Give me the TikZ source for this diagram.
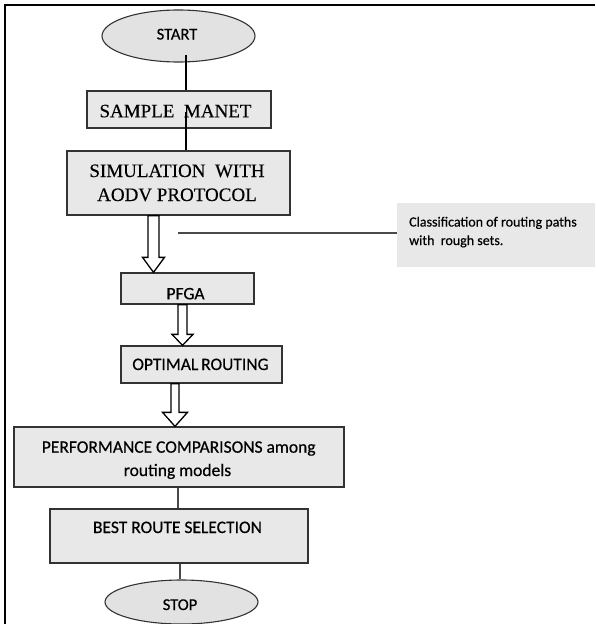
\documentclass[tikz,border=0pt]{standalone}
\usepackage{fontspec}
\setmainfont{Liberation Serif}
\newfontfamily\calfont[FakeBold=0.5]{Carlito}
\newfontfamily\notefont[FakeBold=0.4]{Carlito}
\newfontfamily\serfont[FakeBold=0.3]{Liberation Serif}
\usetikzlibrary{shapes.geometric,calc}
\definecolor{boxborder}{HTML}{333333}
\definecolor{boxfill}{HTML}{E8E8E8}
\definecolor{ovalfill}{HTML}{E2E2E2}
\definecolor{notefill}{HTML}{E8E8E8}
\definecolor{linegray}{HTML}{4A4A4A}
\newcommand{\blockarr}[6]{%
  \draw[blockarrow] let \p1=(#1.south), \p2=(#2.north) in
    (#3pt-#4pt,\y1) -- (#3pt+#4pt,\y1) -- (#3pt+#4pt,\y2+#6pt) -- (#3pt+#5pt,\y2+#6pt)
    -- (#3pt,\y2) -- (#3pt-#5pt,\y2+#6pt) -- (#3pt-#4pt,\y2+#6pt) -- cycle;}
\begin{document}
\begin{tikzpicture}[x=1pt,y=1pt,
  box/.style={rectangle, draw=boxborder, fill=boxfill, line width=1.3pt, inner sep=0pt},
  oval/.style={ellipse, draw=boxborder, fill=ovalfill, line width=1.1pt, inner sep=0pt},
  note/.style={rectangle, fill=notefill, inner sep=0pt},
  conn/.style={draw=black, line width=1.1pt},
  connlight/.style={draw=linegray, line width=1.1pt},
  frame/.style={draw=black, line width=2.6pt},
  blockarrow/.style={draw=black, fill=white, line width=1.3pt, line join=miter},
  caltxt/.style={font=\calfont\fontsize{17.5}{21}\selectfont, inner sep=0pt, anchor=base},
  ovaltxt/.style={font=\calfont\fontsize{16.5}{20}\selectfont, inner sep=0pt, anchor=base},
  sertxt/.style={font=\serfont\fontsize{19}{23}\selectfont, inner sep=0pt, anchor=base},
  notetxt/.style={font=\notefont\fontsize{14}{17}\selectfont, inner sep=0pt, anchor=base west}]
\useasboundingbox (0,0) rectangle (595,-624);
% frame
\coordinate (fa) at (4,-5);
\coordinate (fb) at (595,-5);
\coordinate (fc) at (5,-4);
\coordinate (fd) at (5,-624);
\draw[frame] (fa) -- (fb);
\draw[frame] (fc) -- (fd);
% boxes
\node[oval, minimum width=153, minimum height=52] (start) at (178.5,-36) {};
\node[box, minimum width=184, minimum height=37] (sample) at (179,-109.5) {};
\node[box, minimum width=223, minimum height=64] (sim) at (178.5,-183) {};
\node[note, minimum width=198, minimum height=64, anchor=north west] (note) at (397,-203) {};
\node[box, minimum width=133, minimum height=31] (pfga) at (187.5,-288.5) {};
\node[box, minimum width=161, minimum height=37] (opt) at (201.5,-364.5) {};
\node[box, minimum width=330, minimum height=60] (perf) at (179,-457) {};
\node[box, minimum width=258, minimum height=54] (best) at (179,-536) {};
\node[oval, minimum width=153, minimum height=44] (stop) at (181.5,-602) {};
% texts
\node[ovaltxt] (tstart) at (177,-39.5) {START};
\node[sertxt] (tsample) at (175.5,-117.3) {SAMPLE\ \ MANET};
\node[sertxt] (tsim1) at (177,-177) {SIMULATION\ \ WITH};
\node[sertxt] (tsim2) at (177,-201) {AODV PROTOCOL};
\node[notetxt] (tnote1) at (409,-226.5) {Classification of routing paths};
\node[notetxt] (tnote2) at (409,-245) {with\ \ rough sets.};
\node[caltxt] (tpfga) at (185.5,-299.3) {PFGA};
\node[caltxt] (topt) at (200.5,-370) {OPTIMAL\,ROUTING};
\node[caltxt] (tperf1) at (178.7,-452.7) {PERFORMANCE COMPARISONS among};
\node[caltxt] (tperf2) at (177.5,-476) {routing models};
\node[caltxt] (tbest) at (177.5,-533) {BEST ROUTE SELECTION};
\node[ovaltxt] (tstop) at (180,-610) {STOP};
% thin connectors
\coordinate (c1) at (186,-55);
\coordinate (c2) at (186,-112);
\coordinate (c3) at (178,0);
\coordinate (c4) at (180,0);
\coordinate (c5) at (178,-233);
\draw[conn] (c1) -- (c1 |- sample.north);
\draw[conn] (c2) -- (c2 |- sim.north);
\draw[connlight] (c3 |- perf.south) -- (c3 |- best.north);
\draw[connlight] (c4 |- best.south) -- (c4 |- stop.north);
\draw[connlight] (c5) -- (c5 -| note.west);
% block arrows
\blockarr{sim}{pfga}{153.5}{5.5}{11}{15}
\blockarr{pfga}{opt}{182.5}{4.5}{10.5}{11}
\blockarr{opt}{perf}{175}{4}{12.5}{14}
\end{tikzpicture}
\end{document}
